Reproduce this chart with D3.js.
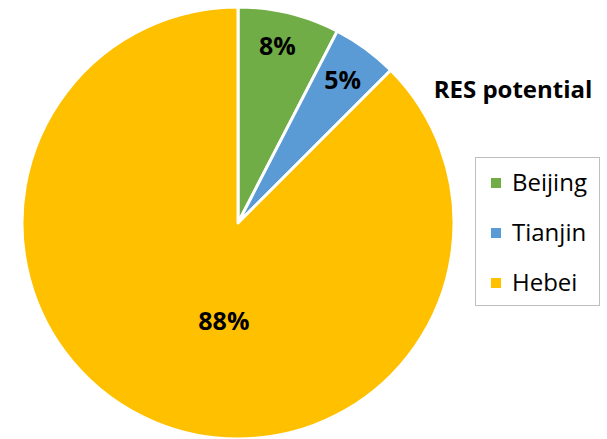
<!DOCTYPE html>
<html>
<head>
<meta charset="utf-8">
<script src="https://cdn.jsdelivr.net/npm/d3@7"></script>
<style>
  body { margin: 0; background: #fff; }
  svg { display: block; font-family: "Open Sans", "Liberation Sans", sans-serif; }
</style>
</head>
<body>
<div id="chart"></div>
<script>
// data
const regions = ["Beijing", "Tianjin", "Hebei"];
const shares = [7.6, 4.9, 87.5];
const labels = ["8%", "5%", "88%"];
const colors = ["#70AD47", "#5B9BD5", "#FFC000"];
const title = "RES potential";

const width = 607, height = 439;
const cx = 238, cy = 223, radius = 216;

const svg = d3.select("#chart").append("svg")
    .attr("width", width)
    .attr("height", height);

const pie = d3.pie().sort(null).value(d => d.value);
const arc = d3.arc().innerRadius(0).outerRadius(radius);

const data = regions.map((r, i) => ({ name: r, value: shares[i], label: labels[i], color: colors[i] }));
const arcs = pie(data);

const g = svg.append("g").attr("transform", `translate(${cx},${cy})`);

g.selectAll("path")
    .data(arcs)
    .enter().append("path")
    .attr("d", arc)
    .attr("fill", d => d.data.color)
    .attr("stroke", "#fff")
    .attr("stroke-width", 3)
    .attr("stroke-linejoin", "round");

// label placement: fraction of radius and angle nudge (radians) off the slice middle
const labelR = [0.84, 0.82, 0.46];
const labelShift = [-0.02, 0, -0.25];
g.selectAll("text.pct")
    .data(arcs)
    .enter().append("text")
    .attr("class", "pct")
    .attr("transform", (d, i) => {
        const a = (d.startAngle + d.endAngle) / 2 + labelShift[i];
        const r = radius * labelR[i];
        return `translate(${Math.sin(a) * r},${-Math.cos(a) * r})`;
    })
    .attr("text-anchor", "middle")
    .attr("dy", "0.36em")
    .style("font-weight", "bold")
    .style("font-size", "25px")
    .style("fill", "#000")
    .text(d => d.data.label);

// title
svg.append("text")
    .attr("x", 513)
    .attr("y", 98)
    .attr("text-anchor", "middle")
    .style("font-weight", "bold")
    .style("font-size", "24px")
    .text(title);

// legend
const legend = svg.append("g").attr("transform", "translate(475,157)");
legend.append("rect")
    .attr("x", 0.5).attr("y", 0.5)
    .attr("width", 124).attr("height", 148)
    .attr("fill", "#fff")
    .attr("stroke", "#BFBFBF")
    .attr("stroke-width", 1);

const item = legend.selectAll("g.item")
    .data(data)
    .enter().append("g")
    .attr("class", "item")
    .attr("transform", (d, i) => `translate(16,${26 + i * 50})`);

item.append("rect")
    .attr("x", 0).attr("y", -5)
    .attr("width", 10).attr("height", 10)
    .attr("fill", d => d.color);

item.append("text")
    .attr("x", 21)
    .attr("dy", "0.35em")
    .style("font-size", "24px")
    .text(d => d.name);
</script>
</body>
</html>
